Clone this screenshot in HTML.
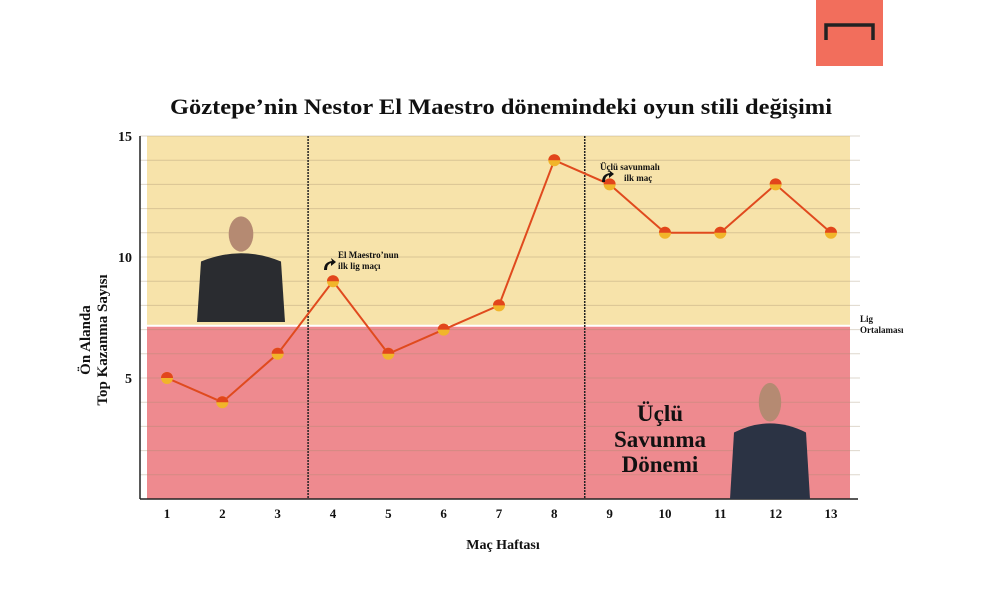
<!DOCTYPE html>
<html><head><meta charset="utf-8">
<style>
body{margin:0;background:#fff;width:1000px;height:600px;overflow:hidden;font-family:"Liberation Serif",serif;}
svg text{font-family:"Liberation Serif","DejaVu Serif",serif;font-weight:bold;}
</style></head><body>
<svg width="1000" height="600">
<rect x="816" y="0" width="67" height="66" fill="#f26e5c"/>
<path d="M826 40 V25 H873 V40" fill="none" stroke="#222" stroke-width="3.5"/>
<text x="170" y="114" textLength="662" lengthAdjust="spacingAndGlyphs" font-size="22" fill="#111">Göztepe’nin Nestor El Maestro dönemindeki oyun stili değişimi</text>
<g id="plot"></g>
</svg>
<script>
const weeks=[1,2,3,4,5,6,7,8,9,10,11,12,13];
const values=[5,4,6,9,6,7,8,14,13,11,11,13,11];
const yTicks=[5,10,15];
const leagueAvg=7.2;
const x=w=>167+(w-1)*55.33;
const y=v=>499-v*24.2;
const NS="http://www.w3.org/2000/svg";
const g=document.getElementById('plot');
function el(t,a,p){const e=document.createElementNS(NS,t);for(const k in a)e.setAttribute(k,a[k]);(p||g).appendChild(e);return e;}
let e;
e=el('rect',{x:147,y:y(15),width:703,height:y(leagueAvg)-y(15),fill:'#f7e3aa'});


e=el('rect',{x:147,y:y(leagueAvg)+2,width:703,height:y(0)-y(leagueAvg)-2,fill:'#ee8a8f'});


for(let v=1;v<=15;v++){
 e=el('line',{x1:140,x2:860,y1:y(v),y2:y(v),stroke:'rgba(160,140,110,0.35)','stroke-width':1});
 
 
}
e=el('line',{x1:140,x2:140,y1:y(15),y2:y(0),stroke:'#222','stroke-width':1.5});


e=el('line',{x1:140,x2:858,y1:y(0),y2:y(0),stroke:'#222','stroke-width':1.5});


yTicks.forEach(v=>{
 e=el('text',{x:132,y:y(v)+5,'text-anchor':'end','font-size':14,fill:'#111'});e.textContent=v;
 
 
});
weeks.forEach(w=>{
 e=el('text',{x:x(w),y:518,'text-anchor':'middle','font-size':13,fill:'#111'});e.textContent=w;
 
 
});
[3.55,8.55].forEach(w=>{
 e=el('line',{x1:x(w),x2:x(w),y1:y(15),y2:y(0),stroke:'#222','stroke-width':1.5,'stroke-dasharray':'2 1'});
 
 
});
function coach(cx,top,w,h,name,suit){
 const gg=el('g',{});
 
 
 el('path',{d:`M${cx-w/2} ${top+h} L${cx-w/2+4} ${top+h*0.45} Q${cx} ${top+h*0.3} ${cx+w/2-4} ${top+h*0.45} L${cx+w/2} ${top+h} Z`,fill:suit},gg);
 el('ellipse',{cx:cx,cy:top+h*0.2,rx:w*0.14,ry:h*0.16,fill:'#b58a72'},gg);
}
coach(241,212,88,110,'coach-photo-1','#2a2c30');
coach(770,378,80,121,'coach-photo-2','#2b3344');
e=el('polyline',{points:weeks.map((w,i)=>x(w)+','+y(values[i])).join(' '),fill:'none',stroke:'#e04a1e','stroke-width':2});


weeks.forEach((w,i)=>{
 const cx=x(w),cy=y(values[i]);
 e=el('circle',{cx:cx,cy:cy,r:6,fill:'#f1b52a'});
 
 
 el('path',{d:`M${cx-6} ${cy} A6 6 0 0 1 ${cx+6} ${cy} Z`,fill:'#e2451c'});
});
function label(tx,ty,lines,name,anchor){
 lines.forEach((s,i)=>{e=el('text',{x:tx,y:ty+i*11,'font-size':9,fill:'#111','text-anchor':anchor||'start'});e.textContent=s;
 
 });
}
label(338,258,["El Maestro’nun","ilk lig maçı"],'annotation-el-maestro');
label(600,170,["Üçlü savunmalı"],'annotation-three-back');
label(624,181,["ilk maç"],'annotation-three-back');
el('path',{d:'M324 270 Q324 262 332 261 L331 258 L336 262 L331 266 L331 263 Q327 264 327 270 Z',fill:'#111'});
el('path',{d:'M602 182 Q602 174 610 173 L609 170 L614 174 L609 178 L609 175 Q605 176 605 182 Z',fill:'#111'});
label(860,322,["Lig","Ortalaması"],'league-average-label');
[["Üçlü",421],["Savunma",447],["Dönemi",472]].forEach(([s,yy])=>{
 e=el('text',{x:660,y:yy,'text-anchor':'middle','font-size':23,fill:'#111'});e.textContent=s;
 
 
});
e=el('text',{x:503,y:549,'text-anchor':'middle','font-size':14,fill:'#111'});e.textContent='Maç Haftası';


e=el('text',{transform:'translate(90,340) rotate(-90)','text-anchor':'middle','font-size':15,fill:'#111'});e.textContent='Ön Alanda';


e=el('text',{transform:'translate(107,340) rotate(-90)','text-anchor':'middle','font-size':15,fill:'#111'});e.textContent='Top Kazanma Sayısı';


</script>
</body></html>
